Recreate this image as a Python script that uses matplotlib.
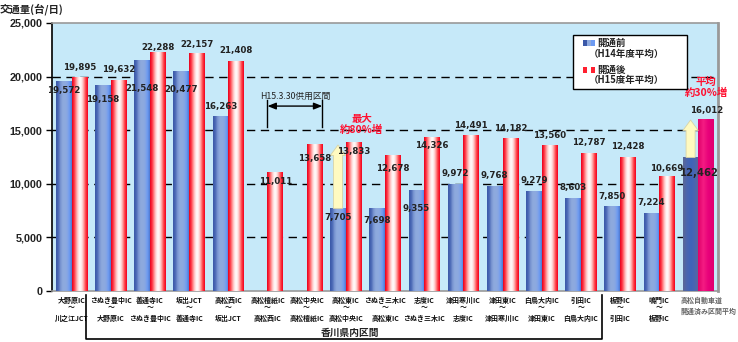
import numpy as np
import matplotlib
matplotlib.use("Agg")
import matplotlib.pyplot as plt
from matplotlib.colors import LinearSegmentedColormap
from matplotlib.patches import FancyArrowPatch, Rectangle
from matplotlib.lines import Line2D

plt.rcParams["font.family"] = ["Noto Sans CJK JP", "DejaVu Sans"]

# data
sec_from = ["大野原IC", "さぬき豊中IC", "善通寺IC", "坂出JCT", "高松西IC",
            "高松檀紙IC", "高松中央IC", "高松東IC", "さぬき三木IC", "志度IC",
            "津田寒川IC", "津田東IC", "白鳥大内IC", "引田IC", "板野IC", "鳴門IC"]
sec_to = ["川之江JCT", "大野原IC", "さぬき豊中IC", "善通寺IC", "坂出JCT",
          "高松西IC", "高松檀紙IC", "高松中央IC", "高松東IC", "さぬき三木IC",
          "志度IC", "津田寒川IC", "津田東IC", "白鳥大内IC", "引田IC", "板野IC"]
before = [19572, 19158, 21548, 20477, 16263, np.nan, np.nan, 7705, 7698, 9355,
          9972, 9768, 9279, 8603, 7850, 7224]
after = [19895, 19632, 22288, 22157, 21408, 11011, 13658, 13833, 12678, 14326,
         14491, 14182, 13560, 12787, 12428, 10669]
avg_name = "高松自動車道\n開通済み区間平均"
avg_before = 12462
avg_after = 16012
yticks = [0, 5000, 10000, 15000, 20000, 25000]

# label offsets in pixels (layout only)
before_dy = [-9, -14, -28, -18, 10, 0, 0, -9, -12, -18, 11, 11, 11, 11, 10, 11]
after_dy = [10, 11, 5, 9, 11, -9, -14, -9, -13, -8, 10, 10, 10, 11, 11, 8]

blue_cm = LinearSegmentedColormap.from_list(
    "b", ["#3A58A8", "#4C6AB6", "#7A96D2", "#8EAADE", "#8EAADE", "#86A6E4", "#6C9AF2", "#4E78D0"])
red_cm = LinearSegmentedColormap.from_list(
    "r", ["#E8001C", "#FF3040", "#FF8C8C", "#FFD8D8", "#FFFFFF", "#FFE4E4", "#FF9A9A", "#FF3A40", "#F00020"])
avgb_cm = LinearSegmentedColormap.from_list("ab", ["#5C6896", "#4A66B0", "#3E64BA", "#4A66B0", "#5C6896"])
avgr_cm = LinearSegmentedColormap.from_list("ar", ["#E0006A", "#F41C82", "#E8007A", "#E00070"])

fig = plt.figure(figsize=(7.38, 3.42), dpi=100)
ax = fig.add_axes([52 / 738, 1 - 291 / 342, 666 / 738, 268 / 342])
ax.set_facecolor("#C6E9F9")

grad = np.linspace(0, 1, 64).reshape(1, -1)


def grad_bar(x0, w, h, cmap):
    if np.isnan(h):
        return
    ax.bar(x0, h, w, align="edge", color="none", zorder=3)
    ax.imshow(grad, extent=[x0, x0 + w, 0, h], aspect="auto", cmap=cmap,
              origin="lower", zorder=3, interpolation="bilinear")


w = 0.4
n = len(sec_from)
for i in range(n):
    grad_bar(i - w, w, before[i], blue_cm)
    grad_bar(i, w, after[i], red_cm)
grad_bar(n - w, w, avg_before, avgb_cm)
grad_bar(n, w, avg_after, avgr_cm)

ax.set_xlim(-0.5, n + 0.5)
ax.set_ylim(0, 25000)

# grid
for y in yticks[1:-1]:
    ax.axhline(y, color="black", lw=1.0, ls=(0, (6, 4)), zorder=1)

# value labels
lbl = dict(fontsize=6.2, fontweight="bold", color="#222222", ha="center", va="center",
           family="DejaVu Sans", textcoords="offset pixels", zorder=6)
for i in range(n):
    if not np.isnan(before[i]):
        ax.annotate(f"{before[i]:,.0f}", (i - w / 2, before[i]), xytext=(0, before_dy[i]), **lbl)
    ax.annotate(f"{after[i]:,.0f}", (i + w / 2, after[i]), xytext=(0, after_dy[i]), **lbl)
ax.annotate(f"{avg_before:,}", (n, avg_before), xytext=(1, -16),
            **{**lbl, "fontsize": 7.2})
ax.annotate(f"{avg_after:,}", (n + w / 2, avg_after), xytext=(0, 9), **lbl)

# axes styling
ax.set_yticks(yticks)
ax.set_yticklabels([f"{v:,}" for v in yticks], fontsize=7.8, family="Liberation Sans",
                   fontweight="bold", color="#222222")
ax.tick_params(axis="y", length=4, width=1, direction="out", pad=3)
ax.set_xticks([])
ax.spines["left"].set_color("black")
ax.spines["left"].set_linewidth(1.2)
for s in ["top", "bottom"]:
    ax.spines[s].set_color("#999999")
    ax.spines[s].set_linewidth(1.2)
ax.spines["right"].set_color("#999999")
ax.spines["right"].set_linewidth(2)

fig.text(0.0, 1 - 9 / 342, "交通量(台/日)", fontsize=7.5, fontweight="bold",
         color="#222222", ha="left", va="center")

# x labels
tr = ax.get_xaxis_transform()
for i in range(n):
    kw = dict(transform=tr, fontsize=5, fontweight="bold", ha="center", va="center",
              color="#111111", clip_on=False)
    ax.text(i, -9 / 268, sec_from[i], **kw)
    ax.text(i, -17 / 268, "～", **kw)
    ax.text(i, -27 / 268, sec_to[i], **kw)
ax.text(n - 0.45, -15 / 268, avg_name, transform=tr, fontsize=5, fontweight="bold",
        ha="left", va="center", color="#666666", linespacing=1.6, clip_on=False)

# bracket for Kagawa section
bx = [86 / 738, 86 / 738, 602 / 738, 602 / 738]
by = [1 - 295 / 342, 1 - 339 / 342, 1 - 339 / 342, 1 - 295 / 342]
fig.add_artist(Line2D(bx, by, color="black", lw=1.2))
fig.text(350 / 738, 1 - 333 / 342, "香川県内区間", fontsize=7, fontweight="bold",
         ha="center", va="center", color="#222222")

# opened section annotation
ax.text(5.7, 18150, "H15.3.30供用区間", fontsize=6.3, ha="center", va="center", color="#222222")
for x in [5.0, 6.4]:
    ax.plot([x, x], [15300, 17800], color="black", lw=1, zorder=5)
ax.annotate("", xy=(5.0, 17250), xytext=(6.4, 17250),
            arrowprops=dict(arrowstyle="<|-|>,head_length=0.5,head_width=0.2", color="black", lw=1,
                            shrinkA=0, shrinkB=0), zorder=5)

# increase arrows
arrow_kw = dict(arrowstyle="simple,head_length=0.75,head_width=1.1,tail_width=0.65",
                mutation_scale=10, fc="#FFFAC0", ec="#D8D4A8", lw=0.6, zorder=5,
                shrinkA=0, shrinkB=0)
ax.add_patch(FancyArrowPatch((7 - 0.2, before[7]), (7 - 0.2, 13620), **arrow_kw))
ax.add_patch(FancyArrowPatch((n - 0.2, avg_before), (n - 0.2, 15950), **arrow_kw))

ax.text(7.4, 15500, "最大\n約80%増", fontsize=7.5, fontweight="bold", color="#FF1030",
        ha="center", va="center", linespacing=1.1, zorder=6)
ax.text(16.2, 19000, "平均\n約30%増", fontsize=7.5, fontweight="bold", color="#FF1030",
        ha="center", va="center", linespacing=1.1, zorder=6, clip_on=False)

# legend box
ax.add_patch(Rectangle((0.782, 0.754), 0.171, 0.201, transform=ax.transAxes,
                       fc="white", ec="black", lw=1, zorder=7))
sw_b = ["#3A58A8", "#8EAADE", "#6C9AF2"]
sw_r = ["#FF2030", "#FFFFFF", "#FF2030"]
for k in range(3):
    ax.add_patch(Rectangle((0.798 + k * 0.006, 0.915), 0.006, 0.022, transform=ax.transAxes,
                           fc=sw_b[k], ec="none", zorder=8))
    ax.add_patch(Rectangle((0.798 + k * 0.006, 0.815), 0.006, 0.022, transform=ax.transAxes,
                           fc=sw_r[k], ec="none", zorder=8))
lkw = dict(transform=ax.transAxes, fontsize=6.8, fontweight="bold", color="#222222",
           ha="left", va="center", zorder=8)
ax.text(0.818, 0.926, "開通前", **lkw)
ax.text(0.806, 0.886, "（H14年度平均）", **lkw)
ax.text(0.818, 0.826, "開通後", **lkw)
ax.text(0.806, 0.786, "（H15度年平均）", **lkw)

fig.savefig("out.png", dpi=100)
